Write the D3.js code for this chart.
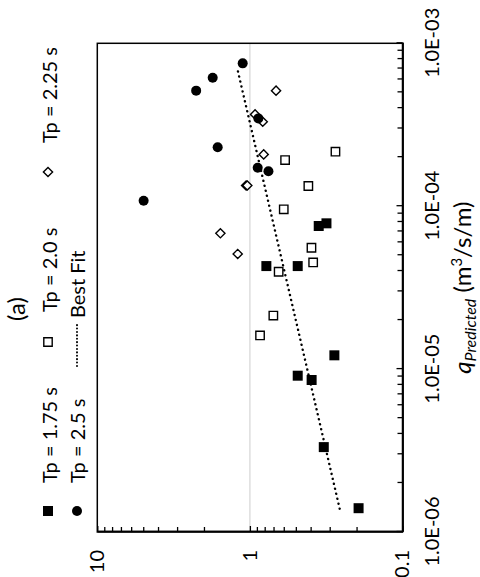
<!DOCTYPE html>
<html><head><meta charset="utf-8">
<script src="https://cdn.jsdelivr.net/npm/d3@7"></script>
<style>body{margin:0;background:#fff} svg{display:block} text{font-family:Lato,"Open Sans",sans-serif;fill:#000}</style>
</head><body><svg id="c" width="480" height="577"></svg>
<script>
// ---- data (original, un-rotated chart: x = q_Predicted, y = ratio) ----
const xTickValues = [1e-6, 1e-5, 1e-4, 1e-3];
const xTickLabels = ["1.0E-06", "1.0E-05", "1.0E-04", "1.0E-03"];
const yTickValues = [0.1, 1, 10];
const yTickLabels = ["0.1", "1", "10"];
const seriesNames = ["Tp = 1.75 s", "Tp = 2.0 s", "Tp = 2.25 s", "Tp = 2.5 s"];
const fitName = "Best Fit";
const chartLabel = "(a)";

const tp175X = [7.56e-5, 7.85e-5, 4.29e-5, 4.29e-5, 1.215e-5, 9.11e-6, 8.57e-6, 3.32e-6, 1.40e-6];
const tp175Y = [0.354, 0.315, 0.78, 0.486, 0.2795, 0.486, 0.394, 0.328, 0.194];
const tp20X = [2.16e-4, 1.92e-4, 1.33e-4, 9.57e-5, 5.56e-5, 4.52e-5, 3.96e-5, 2.13e-5, 1.61e-5];
const tp20Y = [0.275, 0.588, 0.414, 0.600, 0.395, 0.385, 0.648, 0.702, 0.858];
const tp225X = [5.12e-4, 3.66e-4, 3.30e-4, 2.08e-4, 1.34e-4, 1.34e-4, 6.82e-5, 5.09e-5];
const tp225Y = [0.674, 0.925, 0.824, 0.812, 1.059, 1.04, 1.561, 1.202];
const tp25X = [7.53e-4, 6.15e-4, 5.12e-4, 3.46e-4, 2.30e-4, 1.72e-4, 1.64e-4, 1.08e-4];
const tp25Y = [1.115, 1.753, 2.25, 0.88, 1.626, 0.889, 0.756, 4.97];
const fitX = [1.39e-6, 7.08e-4];
const fitY = [0.258, 1.213];

// ---- drawing (local frame is rotated -90deg onto the page) ----
const W = 577, H = 480;
const svg = d3.select("#c");
const g = svg.append("g").attr("transform", `translate(0,${W}) rotate(-90)`);

const L = 45, R = 533.7, T = 97.3, B = 402.5;
const x = d3.scaleLog().domain([1e-6, 1e-3]).range([L, R]);
const y = d3.scaleLog().domain([0.1, 10]).range([B, T]);

// gridline at y = 1
g.append("line").attr("x1", L).attr("x2", R).attr("y1", y(1)).attr("y2", y(1))
  .attr("stroke", "#d9d9d9").attr("stroke-width", 1.3);

// minor ticks
const xMinor = x.ticks().filter(v => !xTickValues.some(t => Math.abs(t - v) / t < 1e-6));
const yMinor = y.ticks().filter(v => !yTickValues.some(t => Math.abs(t - v) / t < 1e-6));

const gx = g.append("g").attr("transform", `translate(0,${B})`);
gx.call(d3.axisBottom(x).tickValues(xMinor).tickSizeInner(-5).tickSizeOuter(0).tickFormat(""));
gx.append("g").call(d3.axisBottom(x).tickValues(xTickValues).tickSizeInner(-6).tickSizeOuter(0)
  .tickPadding(22).tickFormat((d, i) => xTickLabels[i]));

const gy = g.append("g").attr("transform", `translate(${L},0)`);
gy.call(d3.axisLeft(y).tickValues(yMinor).tickSizeInner(-5).tickSizeOuter(0).tickFormat(""));
gy.append("g").call(d3.axisLeft(y).tickValues(yTickValues).tickSizeInner(-6).tickSizeOuter(0)
  .tickPadding(18).tickFormat((d, i) => yTickLabels[yTickValues.indexOf(d)]));

g.selectAll(".tick line").attr("stroke", "#000").attr("stroke-width", 1.3);
g.selectAll(".domain").attr("stroke", "#000").attr("stroke-width", 1.5);
g.selectAll(".tick text").style("font-size", "20px").style("font-family", 'Lato,"Open Sans",sans-serif');

// plot border
g.append("rect").attr("x", L).attr("y", T).attr("width", R - L).attr("height", B - T)
  .attr("fill", "none").attr("stroke", "#000").attr("stroke-width", 1.5);

// best fit
g.append("path").datum(fitX.map((v, i) => [v, fitY[i]]))
  .attr("d", d3.line().x(d => x(d[0])).y(d => y(d[1])))
  .attr("fill", "none").attr("stroke", "#000").attr("stroke-width", 2.4)
  .attr("stroke-linecap", "round").attr("stroke-dasharray", "0.1 5");

const zip = (xs, ys) => xs.map((v, i) => [v, ys[i]]);
const sq = (s) => `M${-s},${-s}H${s}V${s}H${-s}Z`;
const dia = (s) => `M0,${-s}L${s},0L0,${s}L${-s},0Z`;

function marker(sel, kind) {
  if (kind === 0) sel.append("path").attr("d", sq(5)).attr("fill", "#000");
  if (kind === 1) sel.append("path").attr("d", sq(4.2)).attr("fill", "#fff").attr("stroke", "#000").attr("stroke-width", 1.4);
  if (kind === 2) sel.append("path").attr("d", dia(4.6)).attr("fill", "#fff").attr("stroke", "#000").attr("stroke-width", 1.4);
  if (kind === 3) sel.append("circle").attr("r", 5).attr("fill", "#000");
}
const series = [zip(tp175X, tp175Y), zip(tp20X, tp20Y), zip(tp225X, tp225Y), zip(tp25X, tp25Y)];
series.forEach((pts, k) => {
  g.append("g").selectAll("g").data(pts).join("g")
    .attr("transform", d => `translate(${x(d[0])},${y(d[1])})`)
    .each(function () { marker(d3.select(this), k); });
});

// legend
const leg = [
  {k: 0, mu: 66, tu: 94, v: 48, tb: 56.5},
  {k: 1, mu: 235, tu: 265, v: 48, tb: 56.5},
  {k: 2, mu: 405, tu: 434, v: 48, tb: 56.5},
  {k: 3, mu: 66, tu: 94, v: 77, tb: 84.5}
];
leg.forEach(o => {
  const m = g.append("g").attr("transform", `translate(${o.mu},${o.v})`);
  marker(m, o.k);
  g.append("text").attr("x", o.tu).attr("y", o.tb).style("font-size", "20px").text(seriesNames[o.k]);
});
g.append("line").attr("x1", 211).attr("x2", 255).attr("y1", 77).attr("y2", 77)
  .attr("stroke", "#000").attr("stroke-width", 2).attr("stroke-linecap", "round").attr("stroke-dasharray", "0.1 3.3");
g.append("text").attr("x", 259).attr("y", 84.5).style("font-size", "20px").text(fitName);

g.append("text").attr("x", 268).attr("y", 25).attr("text-anchor", "middle").style("font-size", "24px").text(chartLabel);

// axis title
const tt = g.append("text").attr("x", (L + R) / 2).attr("y", 471).attr("text-anchor", "middle").style("font-size", "24px");
tt.append("tspan").style("font-style", "italic").text("q");
tt.append("tspan").style("font-style", "italic").style("font-size", "16px").attr("dy", 5).text("Predicted");
tt.append("tspan").attr("dy", -5).text(" (m");
tt.append("tspan").style("font-size", "15px").attr("dy", -9).text("3");
tt.append("tspan").attr("dy", 9).text("/s/m)");
</script></body></html>
